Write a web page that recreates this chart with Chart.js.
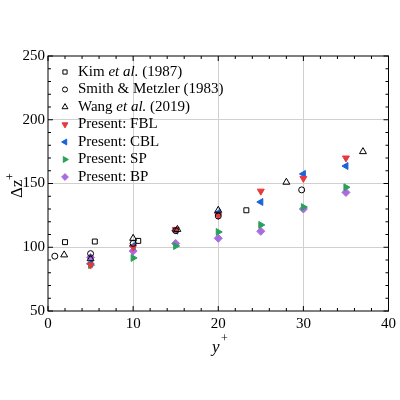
<!DOCTYPE html>
<html><head><meta charset="utf-8">
<script src="https://cdn.jsdelivr.net/npm/chart.js@4"></script>
<style>html,body{margin:0;padding:0;background:#fff}#w{width:400px;height:400px}</style>
</head><body><div id="w"><canvas id="c"></canvas></div>
<script>
const kimX=[2,5.5,10.6,23.3], kimY=[104,104.5,105,129];
const smithX=[0.8,5,10,15,20,29.8], smithY=[93,95,103,113,124.5,145];
const wangX=[1.9,5,10,15.2,20,28,37], wangY=[94,91,107,114,129,151,175];
const presX=[5,10,15,20,25,30,35];
const fblY=[86,100,114,125,144,154,170];
const cblY=[87,101,113,127,135.5,157.5,163.7];
const spY=[86,91.6,101,112,117.5,131.5,147];
const bpY=[92,97,103,107,112.5,130,143];
const xTicks=[0,10,20,30,40], yTicks=[50,100,150,200,250];
const pts=(xs,ys)=>xs.map((x,i)=>({x,y:ys[i]}));
const series=[
 {label:'Kim',data:pts(kimX,kimY),style:'rect',rot:0,fill:'rgba(0,0,0,0)',stroke:'#000',r:3.5,legend:[['Kim ',''],['et al.','i'],[' (1987)','']]},
 {label:'Smith',data:pts(smithX,smithY),style:'circle',rot:0,fill:'rgba(0,0,0,0)',stroke:'#000',r:3,legend:[['Smith & Metzler (1983)','']]},
 {label:'Wang',data:pts(wangX,wangY),style:'triangle',rot:0,fill:'rgba(0,0,0,0)',stroke:'#000',r:4,legend:[['Wang ',''],['et al.','i'],[' (2019)','']]},
 {label:'FBL',data:pts(presX,fblY),style:'triangle',rot:180,fill:'#e8383d',stroke:'#e8383d',r:4,legend:[['Present: FBL','']]},
 {label:'CBL',data:pts(presX,cblY),style:'triangle',rot:-90,fill:'#1a64d8',stroke:'#1a64d8',r:4,legend:[['Present: CBL','']]},
 {label:'SP',data:pts(presX,spY),style:'triangle',rot:90,fill:'#2aa05a',stroke:'#2aa05a',r:4,legend:[['Present: SP','']]},
 {label:'BP',data:pts(presX,bpY),style:'rectRot',rot:0,fill:'#a86be0',stroke:'#a86be0',r:4,legend:[['Present: BP','']]}
];
const F='"Liberation Serif", "Times New Roman", serif';
const deco={id:'deco',afterDraw(ch){
 const c=ch.ctx,a=ch.chartArea,xs=ch.scales.x,ys=ch.scales.y;
 c.save();c.strokeStyle='#000';c.lineWidth=1;
 c.strokeRect(a.left,a.top,a.right-a.left,a.bottom-a.top);
 c.beginPath();
 for(let v=0;v<=40;v+=2){const p=xs.getPixelForValue(v),L=v%10?3:5;c.moveTo(p,a.bottom);c.lineTo(p,a.bottom-L);c.moveTo(p,a.top);c.lineTo(p,a.top+L);}
 for(let v=50;v<=250;v+=10){const p=ys.getPixelForValue(v),L=v%50?3:5;c.moveTo(a.left,p);c.lineTo(a.left+L,p);c.moveTo(a.right,p);c.lineTo(a.right-L,p);}
 c.stroke();
 const y0=72;
 series.forEach((s,i)=>{const y=y0+i*17.5;
  c.fillStyle=s.fill;c.strokeStyle=s.stroke;c.lineWidth=1;
  Chart.helpers.drawPoint(c,{pointStyle:s.style,radius:s.r*0.85,rotation:s.rot,borderWidth:1},65,y);
  let x=78;c.fillStyle='#000';c.textBaseline='middle';
  s.legend.forEach(([t,st])=>{c.font=(st?'italic ':'')+'15px '+F;c.fillText(t,x,y);x+=c.measureText(t).width;});
 });
 c.fillStyle='#000';c.textBaseline='alphabetic';
 c.font='italic 17px '+F;c.fillText('y',212,352);
 c.font='12px '+F;c.fillText('+',221,342);
 c.translate(22,186);c.rotate(-Math.PI/2);
 c.font='17px '+F;c.fillText('Δz',-12,0);c.font='12px '+F;c.fillText('+',6,-8);
 c.restore();
}};
Chart.defaults.font.family=F;
new Chart(document.getElementById('c'),{type:'scatter',
 data:{datasets:series.map(s=>({label:s.label,data:s.data,pointStyle:s.style,rotation:s.rot,backgroundColor:s.fill,borderColor:s.stroke,borderWidth:1,pointRadius:s.r,pointHoverRadius:s.r}))},
 options:{responsive:true,maintainAspectRatio:false,animation:false,
  layout:{padding:{top:56,right:7,left:0,bottom:49}},
  plugins:{legend:{display:false},tooltip:{enabled:false}},
  scales:{
   x:{type:'linear',min:0,max:40,afterBuildTicks(s){s.ticks=xTicks.map(v=>({value:v}));},
     afterFit(s){s.height=40;},
     grid:{color:ctx=>(ctx.tick&&(ctx.tick.value===0||ctx.tick.value===40))?'rgba(0,0,0,0)':'#d0d0d0',drawTicks:false},border:{display:false},
     ticks:{color:'#000',font:{size:15},padding:4,maxRotation:0}},
   y:{type:'linear',min:50,max:250,afterBuildTicks(s){s.ticks=yTicks.map(v=>({value:v}));},
     afterFit(s){s.width=48;},
     grid:{color:ctx=>(ctx.tick&&(ctx.tick.value===50||ctx.tick.value===250))?'rgba(0,0,0,0)':'#d0d0d0',drawTicks:false},border:{display:false},
     ticks:{color:'#000',font:{size:15},padding:3}}
  }},
 plugins:[deco]});
</script></body></html>
